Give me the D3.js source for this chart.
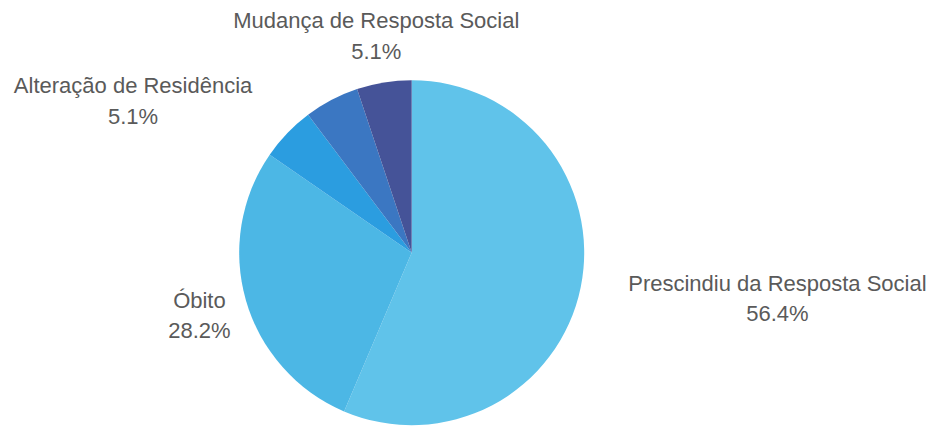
<!DOCTYPE html>
<html>
<head>
<meta charset="utf-8">
<script src="https://cdn.jsdelivr.net/npm/d3@7"></script>
<style>
  html, body { margin: 0; padding: 0; background: #ffffff; }
  svg { display: block; }
  text { font-family: "Liberation Sans", Arial, sans-serif; }
</style>
</head>
<body>
<svg id="chart" width="934" height="426"></svg>
<script>
// ---- data ----
const categories = ["Prescindiu da Resposta Social", "Óbito", "Alteração de Residência", "", "Mudança de Resposta Social"];
const counts = [22, 11, 2, 2, 2];
const percentLabels = ["56.4%", "28.2%", "5.1%", "5.1%", "5.1%"];
const colors = ["#60c3ea", "#4cb7e5", "#2b9de0", "#3b77c2", "#455398"];

// ---- layout ----
const W = 934, H = 426;
const cx = 411.7, cy = 252.7, r = 172.5;
const labelR = r + 48.5;
const fontSize = 22;
const lineGap = 30.5;

const svg = d3.select("#chart");
const g = svg.append("g").attr("transform", `translate(${cx},${cy})`);

const data = categories.map((c, i) => ({ name: c, value: counts[i], pct: percentLabels[i], color: colors[i] }));
const pie = d3.pie().value(d => d.value).sort(null);
const arcs = pie(data);
const arc = d3.arc().innerRadius(0).outerRadius(r);
const labelArc = d3.arc().innerRadius(labelR).outerRadius(labelR);

g.selectAll("path.slice")
  .data(arcs)
  .join("path")
  .attr("class", "slice")
  .attr("d", arc)
  .attr("fill", d => d.data.color);

// labels
const lg = g.append("g");
arcs.forEach(a => {
  if (!a.data.name) return;
  const [px, py] = labelArc.centroid(a);
  const grp = lg.append("g");
  const t1 = grp.append("text").attr("text-anchor", "middle")
    .attr("font-size", fontSize).attr("fill", "#5a5a5a").text(a.data.name);
  const t2 = grp.append("text").attr("text-anchor", "middle")
    .attr("font-size", fontSize).attr("fill", "#5a5a5a").text(a.data.pct);
  const w = Math.max(t1.node().getComputedTextLength(), t2.node().getComputedTextLength());
  const h = lineGap + fontSize;
  let bx = px; // block center x
  // rect-circle intersection check
  const rect = { x0: bx - w / 2, x1: bx + w / 2, y0: py - h / 2, y1: py + h / 2 };
  const nx = Math.max(rect.x0, Math.min(0, rect.x1));
  const ny = Math.max(rect.y0, Math.min(0, rect.y1));
  if (Math.hypot(nx, ny) < r) {
    bx = px > 0 ? px + w / 2 : px - w / 2;
  }
  const yc = py + 1.2;
  t1.attr("x", bx).attr("y", yc - lineGap / 2).attr("dy", "0.35em");
  t2.attr("x", bx).attr("y", yc + lineGap / 2).attr("dy", "0.35em");
});
</script>
</body>
</html>
